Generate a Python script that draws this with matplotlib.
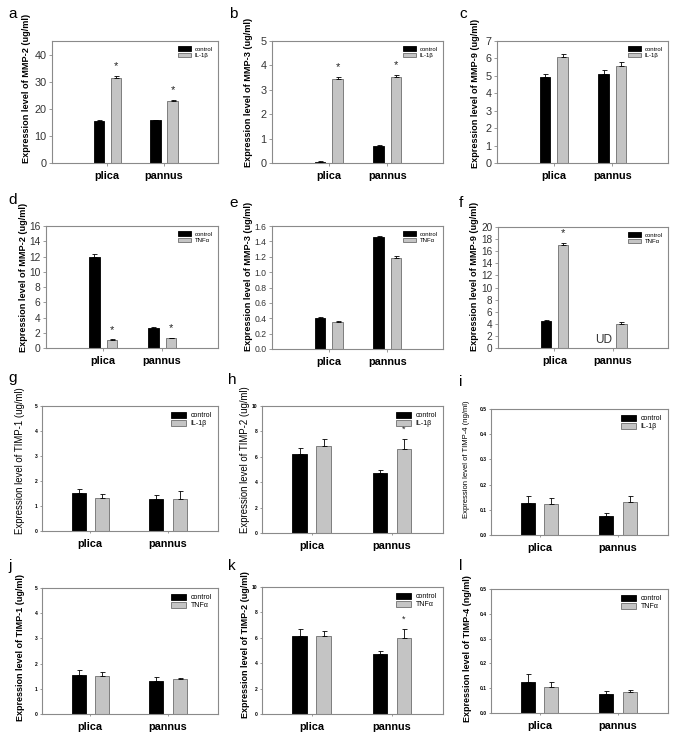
import numpy as np
import matplotlib
matplotlib.use("Agg")
import matplotlib.pyplot as plt

plt.rcParams['font.family'] = ['Liberation Sans', 'DejaVu Sans']

cats = ['plica', 'pannus']

# MMP panels (a-f)
mmp2_il_ctrl, mmp2_il_ctrl_err = [15.6, 15.7], [0.3, 0.3]
mmp2_il_trt, mmp2_il_trt_err = [31.5, 22.9], [0.7, 0.3]
mmp3_il_ctrl, mmp3_il_ctrl_err = [0.06, 0.69], [0.01, 0.03]
mmp3_il_trt, mmp3_il_trt_err = [3.46, 3.54], [0.05, 0.08]
mmp9_il_ctrl, mmp9_il_ctrl_err = [4.92, 5.10], [0.20, 0.22]
mmp9_il_trt, mmp9_il_trt_err = [6.08, 5.57], [0.19, 0.25]
mmp2_tnf_ctrl, mmp2_tnf_ctrl_err = [12.0, 2.65], [0.27, 0.15]
mmp2_tnf_trt, mmp2_tnf_trt_err = [1.0, 1.3], [0.12, 0.05]
mmp3_tnf_ctrl, mmp3_tnf_ctrl_err = [0.405, 1.455], [0.005, 0.01]
mmp3_tnf_trt, mmp3_tnf_trt_err = [0.355, 1.185], [0.005, 0.025]
mmp9_tnf_ctrl, mmp9_tnf_ctrl_err = [4.45, np.nan], [0.25, 0.0]   # pannus control undetected
mmp9_tnf_trt, mmp9_tnf_trt_err = [17.05, 3.98], [0.3, 0.25]

# TIMP panels (g-l)
timp1_il_ctrl, timp1_il_ctrl_err = [1.54, 1.30], [0.16, 0.14]
timp1_il_trt, timp1_il_trt_err = [1.34, 1.28], [0.14, 0.33]
timp2_il_ctrl, timp2_il_ctrl_err = [6.23, 4.76], [0.50, 0.21]
timp2_il_trt, timp2_il_trt_err = [6.88, 6.60], [0.55, 0.78]
timp4_il_ctrl, timp4_il_ctrl_err = [0.126, 0.0756], [0.029, 0.010]
timp4_il_trt, timp4_il_trt_err = [0.122, 0.130], [0.024, 0.024]
timp1_tnf_ctrl, timp1_tnf_ctrl_err = [1.56, 1.30], [0.18, 0.15]
timp1_tnf_trt, timp1_tnf_trt_err = [1.50, 1.37], [0.18, 0.06]
timp2_tnf_ctrl, timp2_tnf_ctrl_err = [6.18, 4.74], [0.50, 0.23]
timp2_tnf_trt, timp2_tnf_trt_err = [6.18, 5.97], [0.35, 0.71]
timp4_tnf_ctrl, timp4_tnf_ctrl_err = [0.125, 0.077], [0.032, 0.013]
timp4_tnf_trt, timp4_tnf_trt_err = [0.103, 0.083], [0.022, 0.008]

W, H = 683, 739
fig = plt.figure(figsize=(W / 100, H / 100), dpi=100)

def pix_axes(l, t, r, b):
    return fig.add_axes([l / W, 1 - b / H, (r - l) / W, (b - t) / H])

panels = [
    # letter, box(l,t,r,b), ctrl, ctrl_err, trt, trt_err, treatment, ylabel, ymax, ystep, fmt, stars, big
    ('a', (52, 41, 218, 163), mmp2_il_ctrl, mmp2_il_ctrl_err, mmp2_il_trt, mmp2_il_trt_err,
     'IL-1β', 'Expression level of MMP-2 (ug/ml)', 45, 10, '%d', [0, 1], True),
    ('b', (272, 41, 443, 163), mmp3_il_ctrl, mmp3_il_ctrl_err, mmp3_il_trt, mmp3_il_trt_err,
     'IL-1β', 'Expression level of MMP-3 (ug/ml)', 5, 1, '%d', [0, 1], True),
    ('c', (497, 41, 668, 163), mmp9_il_ctrl, mmp9_il_ctrl_err, mmp9_il_trt, mmp9_il_trt_err,
     'IL-1β', 'Expression level of MMP-9 (ug/ml)', 7, 1, '%d', [], True),
    ('d', (46, 226, 218, 348), mmp2_tnf_ctrl, mmp2_tnf_ctrl_err, mmp2_tnf_trt, mmp2_tnf_trt_err,
     'TNFα', 'Expression level of MMP-2 (ug/ml)', 16, 2, '%d', [0, 1], True),
    ('e', (272, 226, 443, 349), mmp3_tnf_ctrl, mmp3_tnf_ctrl_err, mmp3_tnf_trt, mmp3_tnf_trt_err,
     'TNFα', 'Expression level of MMP-3 (ug/ml)', 1.6, 0.2, '%.1f', [], True),
    ('f', (498, 227, 668, 348), mmp9_tnf_ctrl, mmp9_tnf_ctrl_err, mmp9_tnf_trt, mmp9_tnf_trt_err,
     'TNFα', 'Expression level of MMP-9 (ug/ml)', 20, 2, '%d', [0], True),
    ('g', (42, 406, 218, 531), timp1_il_ctrl, timp1_il_ctrl_err, timp1_il_trt, timp1_il_trt_err,
     'IL-1β', 'Expression level of TIMP-1 (ug/ml)', 5, 1, '%d', [], False),
    ('h', (262, 406, 443, 533), timp2_il_ctrl, timp2_il_ctrl_err, timp2_il_trt, timp2_il_trt_err,
     'IL-1β', 'Expression level of TIMP-2 (ug/ml)', 10, 2, '%d', [1], False),
    ('i', (491, 409, 668, 535), timp4_il_ctrl, timp4_il_ctrl_err, timp4_il_trt, timp4_il_trt_err,
     'IL-1β', 'Expression level of TIMP-4 (ng/ml)', 0.5, 0.1, '%.1f', [], False),
    ('j', (42, 588, 218, 714), timp1_tnf_ctrl, timp1_tnf_ctrl_err, timp1_tnf_trt, timp1_tnf_trt_err,
     'TNFα', 'Expression level of TIMP-1 (ug/ml)', 5, 1, '%d', [], False),
    ('k', (262, 587, 443, 714), timp2_tnf_ctrl, timp2_tnf_ctrl_err, timp2_tnf_trt, timp2_tnf_trt_err,
     'TNFα', 'Expression level of TIMP-2 (ug/ml)', 10, 2, '%d', [1], False),
    ('l', (491, 589, 668, 713), timp4_tnf_ctrl, timp4_tnf_ctrl_err, timp4_tnf_trt, timp4_tnf_trt_err,
     'TNFα', 'Expression level of TIMP-4 (ng/ml)', 0.5, 0.1, '%.1f', [], False),
]

letter_pos = {'a': (8, 18), 'b': (229, 18), 'c': (459, 18),
              'd': (8, 204), 'e': (229, 207), 'f': (459, 207),
              'g': (8, 382), 'h': (228, 384), 'i': (459, 386),
              'j': (8, 570), 'k': (228, 570), 'l': (459, 570)}

# y-label style: fontsize, weight, gap (px) from axis to label's right edge, centre (axes frac)
ylab_style = {'a': (6.6, 'bold', 21, 0.61), 'b': (6.6, 'bold', 19, 0.58),
              'c': (6.6, 'bold', 17, 0.57), 'd': (6.6, 'bold', 18, 0.58),
              'e': (6.6, 'bold', 19, 0.59), 'f': (6.6, 'bold', 19, 0.59),
              'g': (6.9, 'normal', 17, 0.56), 'h': (6.9, 'normal', 12, 0.58),
              'i': (5.5, 'normal', 21, 0.6), 'j': (6.5, 'bold', 17, 0.53),
              'k': (6.5, 'bold', 12, 0.55), 'l': (6.5, 'bold', 19, 0.52)}
ytick_fs = {'a': 7.8, 'b': 7.8, 'c': 7.8, 'd': 7.4, 'e': 6.2, 'f': 7.2}

spine_col = '#8a8a8a'
gray = '#c4c4c4'
bw, off = 0.18, 0.15
x = np.arange(1, len(cats) + 1)

for (let, box, c, ce, t, te, trt, ylab, ymax, ystep, fmt, stars, big) in panels:
    ax = pix_axes(*box)
    c = np.array(c, dtype=float)
    t = np.array(t, dtype=float)
    ax.bar(x - off, np.nan_to_num(c), bw, color='black', edgecolor='black', lw=0.6,
           label='control', zorder=2)
    ax.bar(x + off, t, bw, color=gray, edgecolor='#6e6e6e', lw=0.6, label=trt, zorder=2)
    ok = ~np.isnan(c)
    ax.errorbar((x - off)[ok], c[ok], yerr=[np.zeros(ok.sum()), np.array(ce)[ok]],
                fmt='none', ecolor='black', elinewidth=0.6, capsize=1.8, capthick=0.6, zorder=3)
    ax.errorbar(x + off, t, yerr=[np.zeros(len(t)), te],
                fmt='none', ecolor='black', elinewidth=0.6, capsize=1.8, capthick=0.6, zorder=3)
    for s in stars:
        ax.text(x[s] + off, t[s] + te[s] + ymax * 0.04, '*', ha='center', va='bottom',
                fontsize=8 if big else 6.5, color='#222222')
    if let == 'f':
        ax.text(x[1] - off, 0.3, 'UD', ha='center', va='bottom', fontsize=8.5, color='#333333')

    ax.set_ylim(0, ymax)
    ax.set_yticks(np.arange(0, ymax + ystep / 2, ystep))
    ax.set_yticklabels([fmt % v for v in np.arange(0, ymax + ystep / 2, ystep)])
    ax.set_xticks(x)
    ax.set_xticklabels(cats, fontweight='bold', fontsize=7.8)
    if big:
        ax.set_xlim(0.03, 2.95)
        ax.tick_params(axis='y', labelsize=ytick_fs[let], length=2.5, width=0.6,
                       color=spine_col, pad=1.5, labelcolor='#333333')
        ax.tick_params(axis='x', length=2, width=0.6, color=spine_col, pad=4)
        leg_fs = 4.3
    else:
        ax.set_xlim(0.38, 2.64)
        ax.tick_params(axis='y', labelsize=3.6, length=1.5, width=0.6, color=spine_col,
                       pad=1.5)
        for lb in ax.get_yticklabels():
            lb.set_fontweight('bold')
        ax.tick_params(axis='x', length=1.5, width=0.6, color=spine_col, pad=4)
        leg_fs = 5
    fs, fw, gap, yc = ylab_style[let]
    ax.set_ylabel(ylab, fontsize=fs, fontweight=fw)
    ax.yaxis.set_label_coords(-gap / (box[2] - box[0]), yc)
    for sp in ax.spines.values():
        sp.set_color(spine_col)
        sp.set_linewidth(0.8)
    ax.legend(loc='upper right', frameon=False, fontsize=leg_fs, handlelength=2.2,
              handleheight=0.8, labelspacing=0.15, borderaxespad=0.5, handletextpad=0.6)

    lx, ly = letter_pos[let]
    fig.text(lx / W, 1 - ly / H, let, fontsize=11, ha='left', va='baseline')

fig.savefig('out.png', dpi=100)
